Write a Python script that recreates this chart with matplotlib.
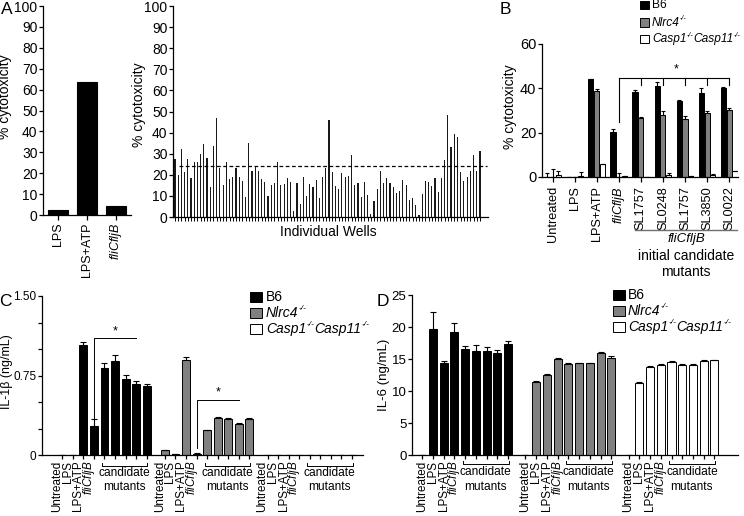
import matplotlib
matplotlib.use("Agg")
import matplotlib.pyplot as plt
import matplotlib.patches as mpatches
import matplotlib.transforms as mtrans
import numpy as np

plt.rcParams['font.family'] = ['Liberation Sans', 'DejaVu Sans']
plt.rcParams['mathtext.fontset'] = 'custom'
plt.rcParams['mathtext.rm'] = 'Liberation Sans'
plt.rcParams['mathtext.it'] = 'Liberation Sans:italic'
plt.rcParams['axes.linewidth'] = 0.9
plt.rcParams['xtick.major.width'] = 0.9
plt.rcParams['ytick.major.width'] = 0.9

# ---------------- data ----------------
A_labels = ['LPS', 'LPS+ATP', r'$\it{fliCfljB}$']
A_vals = [2.2, 63.5, 4.1]

wells = [27.5, 20, 32, 21.5, 27.5, 18.5, 26, 26, 30, 34.5, 28, 14, 33.5, 47, 23, 15,
         26, 18, 19, 23, 19, 17, 9.5, 35, 22, 24, 22, 18, 16.5, 10, 15, 16,
         26, 15, 15.5, 18.5, 16.5, 3, 16, 6, 19, 10, 15.5, 14, 17.5, 9, 19, 23,
         46, 21.5, 14.5, 13.5, 21, 19, 19.5, 29.5, 15, 16, 9.5, 16.5, 10.5, 1.5, 7.5, 13.5,
         22, 16, 18.5, 16, 14, 11.5, 12.5, 17.5, 15, 8, 9, 5.5, 1, 11, 17, 16.5,
         14.5, 18.5, 12, 18.5, 27, 48.5, 33, 39.5, 38, 21.5, 17, 19, 22, 29.5, 22, 31.5]
threshold = 24

B_labels = ['Untreated', 'LPS', 'LPS+ATP', r'$\it{fliCfljB}$', 'SL1757', 'SL0248',
            'SL1757', 'SL3850', 'SL0022']
B_b6 = [0, 0, 44, 20.3, 38.5, 41.2, 34.2, 38, 40.2]
B_b6_err = [1.8, 0, 0.3, 1.3, 0.8, 1.8, 0.6, 2.3, 0.3]
B_nlrc4 = [0, 0, 38.7, 0, 26.8, 28, 26.1, 29, 30.3]
B_nlrc4_err = [3.4, 0, 1.0, 1.6, 0.2, 1.7, 1.2, 0.6, 1.0]
B_casp = [1.0, 0.5, 5.7, 0.3, 0, 1.0, 0.3, 1.0, 2.5]
B_casp_err = [1.6, 1.6, 0.2, 0.2, 0, 0.6, 0.2, 0.5, 0.3]

CD_labels = ['Untreated', 'LPS', 'LPS+ATP', r'$\it{fliCfljB}$']

C_b6 = [0, 0, 1.04, 0.275, 0.822, 0.887, 0.719, 0.672, 0.65]
C_b6_err = [0, 0, 0.026, 0.062, 0.043, 0.059, 0.037, 0.028, 0.018]
C_nlrc4 = [0.044, 0.013, 0.90, 0.012, 0.234, 0.353, 0.337, 0.297, 0.337]
C_nlrc4_err = [0, 0, 0.028, 0.003, 0.006, 0.005, 0.008, 0.003, 0.012]
C_casp = [0, 0, 0, 0, 0, 0, 0, 0, 0]
C_casp_err = [0, 0, 0, 0, 0, 0, 0, 0, 0]

D_b6 = [0, 19.7, 14.3, 19.26, 16.6, 16.3, 16.3, 15.9, 17.4]
D_b6_err = [0, 2.7, 0.45, 1.35, 0.5, 0.85, 0.65, 0.5, 0.45]
D_nlrc4 = [0, 11.4, 12.5, 15.0, 14.2, 14.3, 14.3, 15.95, 15.2]
D_nlrc4_err = [0, 0.1, 0.15, 0.15, 0.1, 0.05, 0.1, 0.1, 0.2]
D_casp = [0, 11.3, 13.8, 14.1, 14.6, 14.1, 14.1, 14.7, 14.85]
D_casp_err = [0, 0.05, 0.1, 0.1, 0.1, 0.1, 0.05, 0.15, 0.05]

# legend labels: list of (text, is_superscript, italic)
legend_parts = [
    [('B6', False, False)],
    [('Nlrc4', False, True), ('-/-', True, True)],
    [('Casp1', False, True), ('-/-', True, True), ('Casp11', False, True), ('-/-', True, True)],
]
colors = ['black', '#808080', 'white']

# ---------------- figure ----------------
W, H = 744, 516
fig = plt.figure(figsize=(W / 100, H / 100), dpi=100)
renderer = fig.canvas.get_renderer()


def ax_px(l, t, r, b):
    return fig.add_axes([l / W, 1 - b / H, (r - l) / W, (b - t) / H])


def fx(x):
    return x / W


def fy(y):
    return 1 - y / H


def style(ax):
    ax.spines['top'].set_visible(False)
    ax.spines['right'].set_visible(False)
    ax.tick_params(direction='out', length=3.5, pad=2)
    ax.tick_params(axis='y', length=3, pad=1)


def rich(x, y, parts, size):
    cur = x
    for s, sup, it in parts:
        fs = size * 0.6 if sup else size
        yy = y - size * 0.42 if sup else y
        t = fig.text(fx(cur), fy(yy), s, fontsize=fs, style='italic' if it else 'normal',
                     va='center', ha='left')
        cur += t.get_window_extent(renderer).width + (0.3 if sup else 0.0)


def legend(sx, tx, ys, size, sq_w, sq_h):
    for k, parts in enumerate(legend_parts):
        fig.add_artist(mpatches.Rectangle((fx(sx), fy(ys[k] + sq_h / 2)), sq_w / W, sq_h / H,
                                          facecolor=colors[k], edgecolor='black', linewidth=0.7,
                                          transform=fig.transFigure))
        rich(tx, ys[k], parts, size)


# ---- panel A1 ----
ax = ax_px(43, 6, 131, 215)
style(ax)
xa = np.arange(len(A_vals))
ax.bar(xa, A_vals, width=0.72, color='black', edgecolor='black', linewidth=0.8)
ax.set_xlim(-0.52, 2.52)
ax.set_ylim(0, 100)
ax.set_yticks(np.arange(0, 101, 10))
ax.set_xticks(xa)
ax.set_xticklabels(A_labels, rotation=90, fontsize=9)
ax.tick_params(axis='y', labelsize=10)

# ---- panel A2 ----
ax = ax_px(173, 6, 488, 217)
style(ax)
xw = np.arange(len(wells))
ax.bar(xw, wells, width=0.36, color='#1a1a1a', linewidth=0)
ax.plot([1.2, 97.3], [threshold, threshold], color='black', lw=0.9, dashes=(3, 2))
ax.set_xlim(-0.6, 97.5)
ax.set_ylim(0, 100)
ax.set_yticks(np.arange(0, 101, 10))
ax.set_xticks(xw)
ax.set_xticklabels([])
ax.tick_params(axis='x', length=3, width=0.7)
ax.tick_params(axis='y', labelsize=10)

# ---- panel B ----
ax = ax_px(542, 44, 738, 177)
style(ax)
xb = np.arange(len(B_labels))
bw, off = 0.23, 0.265
for k, (vals, errs) in enumerate([(B_b6, B_b6_err), (B_nlrc4, B_nlrc4_err), (B_casp, B_casp_err)]):
    pos = xb + (k - 1) * off
    ax.bar(pos, vals, width=bw, color=colors[k], edgecolor='black', linewidth=0.7)
    ax.errorbar(pos, vals, yerr=[np.zeros(len(vals)), errs], fmt='none', ecolor='black',
                elinewidth=0.8, capsize=1.5, capthick=0.8)
ax.set_xlim(-0.48, 8.4)
ax.set_ylim(0, 60)
ax.set_yticks([0, 20, 40, 60])
ax.set_xticks(xb)
ax.set_xticklabels(B_labels, rotation=90, fontsize=9.2)
ax.tick_params(axis='x', pad=3)
ax.tick_params(axis='y', labelsize=10.5)
# significance bracket
ax.plot([3, 8], [44.6, 44.6], color='black', lw=0.8, clip_on=False)
ax.plot([3, 3], [44.6, 25], color='black', lw=0.8, clip_on=False)
for xx in [4, 5, 6, 7, 8]:
    ax.plot([xx, xx], [44.6, 41.6], color='black', lw=0.8, clip_on=False)
ax.text(5.6, 48.5, '*', ha='center', va='center', fontsize=9)

legend(640, 652, [5, 22.5, 39], 8.6, 8.5, 8)

# B bottom annotation
fig.add_artist(plt.Line2D([fx(635), fx(737)], [fy(230), fy(230)], color='#707070', lw=1.0))
fig.text(fx(686), fy(239), 'fliCfljB', style='italic', fontsize=9.5, ha='center', va='center')
fig.text(fx(686), fy(256), 'initial candidate', fontsize=10, ha='center', va='center')
fig.text(fx(686), fy(272), 'mutants', fontsize=10, ha='center', va='center')


# ---- helper for C / D ----
def grouped(ax, data, gap, ylim, yticks, ylabels, ysize, label_shift, brk):
    style(ax)
    allpos = []
    for g, (vals, errs) in enumerate(data):
        pos = g * gap + np.arange(len(vals))
        allpos.extend(pos)
        ax.bar(pos, vals, width=0.75, color=colors[g], edgecolor='black', linewidth=0.7)
        ax.errorbar(pos, vals, yerr=[np.zeros(len(vals)), errs], fmt='none', ecolor='black',
                    elinewidth=0.8, capsize=2, capthick=0.8)
    ax.set_ylim(*ylim)
    ax.set_yticks(yticks)
    ax.set_yticklabels(ylabels, fontsize=ysize)
    ax.set_xticks(allpos)
    ax.set_xticklabels([])
    ax.tick_params(axis='x', length=3)
    trans = mtrans.blended_transform_factory(ax.transData, ax.transAxes)
    shift = mtrans.ScaledTranslation(label_shift / 100, 0, fig.dpi_scale_trans)
    yb, yt, yc1, ym = brk
    for g in range(3):
        base = g * gap
        for i, lab in enumerate(CD_labels):
            ax.text(base + i, -0.035, lab, rotation=90, ha='center', va='top', fontsize=8.4,
                    transform=trans + shift)
        x0, x1 = base + 3.75, base + 8.05
        ax.plot([x0, x0, x1, x1], [yt, yb, yb, yt], color='black', lw=0.7,
                transform=trans, clip_on=False)
        ax.text((x0 + x1) / 2, yc1, 'candidate', ha='center', va='center', fontsize=8.6,
                transform=trans)
        ax.text((x0 + x1) / 2, ym, 'mutants', ha='center', va='center', fontsize=8.6,
                transform=trans)


# ---- panel C ----
axC = ax_px(42, 296, 363, 455)
gapC = 9.73
grouped(axC, [(C_b6, C_b6_err), (C_nlrc4, C_nlrc4_err), (C_casp, C_casp_err)], gapC,
        (0, 1.5), [0, 0.25, 0.5, 0.75, 1.0, 1.25, 1.5], ['0', '', '', '0.75', '', '', '1.50'],
        8.5, -5, (-0.069, -0.05, -0.111, -0.199))
axC.set_xlim(-1.92, 2 * gapC + 8 + 1.04)
axC.plot([3, 3, 7], [0.31, 1.10, 1.10], color='black', lw=0.7)
axC.text(5, 1.165, '*', ha='center', va='center', fontsize=9)
axC.plot([gapC + 3, gapC + 3, gapC + 7], [0.065, 0.52, 0.52], color='black', lw=0.7)
axC.text(gapC + 5, 0.59, '*', ha='center', va='center', fontsize=9)

# ---- panel D ----
axD = ax_px(412, 295, 738, 455)
gapD = 9.62
grouped(axD, [(D_b6, D_b6_err), (D_nlrc4, D_nlrc4_err), (D_casp, D_casp_err)], gapD,
        (0, 25), [0, 5, 10, 15, 20, 25], ['0', '5', '10', '15', '20', '25'],
        9.5, 0, (-0.056, -0.0375, -0.104, -0.198))
axD.set_xlim(-0.96, 2 * gapD + 8 + 2.2)

# legends C / D
legend(250, 266, [297, 313, 329], 10, 12, 10)
legend(613, 628, [295, 311, 327], 10, 12, 10)

# axis labels (figure coords)
fig.text(fx(5), fy(97), '% cytotoxicity', rotation=90, ha='center', va='center', fontsize=10)
fig.text(fx(139), fy(105), '% cytotoxicity', rotation=90, ha='center', va='center', fontsize=10)
fig.text(fx(510), fy(107), '% cytotoxicity', rotation=90, ha='center', va='center', fontsize=10)
fig.text(fx(328), fy(232), 'Individual Wells', ha='center', va='center', fontsize=10)
fig.text(fx(7), fy(372), 'IL-1β (ng/mL)', rotation=90, ha='center', va='center', fontsize=9)
fig.text(fx(384), fy(375), 'IL-6 (ng/mL)', rotation=90, ha='center', va='center', fontsize=9.5)

# panel letters
for lt, (x, y) in zip('ABCD', [(7, 9), (505, 9), (5, 301), (383, 301)]):
    fig.text(fx(x), fy(y), lt, fontsize=12.5, ha='center', va='center')

fig.savefig('out.png', dpi=100)
